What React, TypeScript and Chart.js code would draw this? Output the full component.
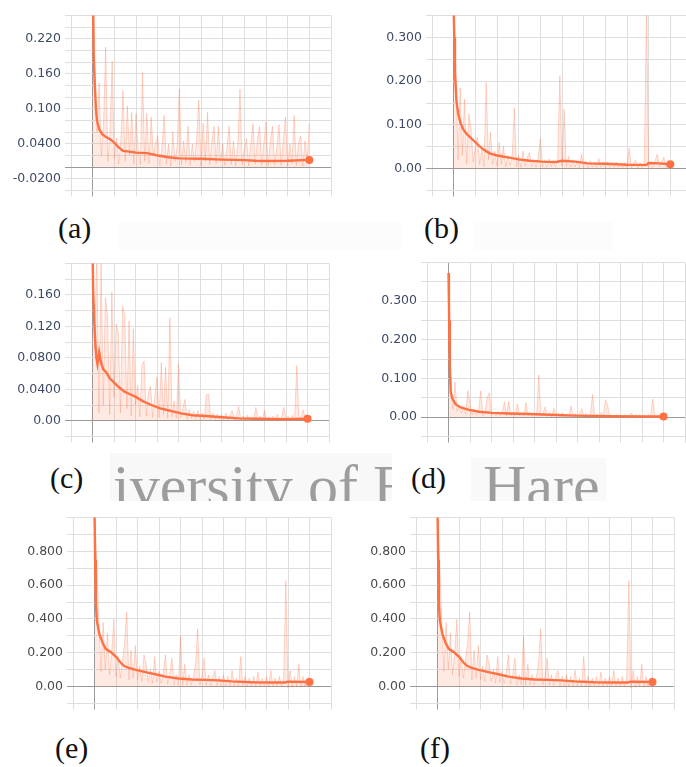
import React, { useEffect, useRef } from 'react';
import { Chart, registerables } from 'chart.js';

Chart.register(...registerables);

// Raw series are sampled every 0.1 step (index i -> step i * 0.1), steps 0..10.
const RAW_STEP = 0.1;

// ---------- Panel (a) ----------
const aSmoothSteps = [0, 0.05, 0.1, 0.15, 0.2, 0.3, 0.45, 0.6, 0.8, 1.0, 1.2, 1.4, 1.6, 2.0, 2.5, 3.0, 3.5, 4.0, 5.0, 6.0, 7.0, 7.5, 8.0, 9.0, 10];
const aSmoothLoss = [0.35, 0.185, 0.14, 0.1, 0.08, 0.065, 0.056, 0.052, 0.048, 0.042, 0.034, 0.028, 0.027, 0.025, 0.024, 0.02, 0.017, 0.015, 0.0145, 0.013, 0.012, 0.011, 0.0105, 0.011, 0.0125];
const aRawLoss = [
  0.30, 0.185, 0.06, 0.145, 0.02, 0.07, 0.206, 0.01, 0.06, 0.182,
  0.015, 0.05, 0.005, 0.045, 0.131, 0.01, 0.105, 0.02, 0.094, 0.005,
  0.092, 0.03, 0.004, 0.162, 0.01, 0.092, 0.006, 0.086, 0.02, 0.04,
  0.054, 0.003, 0.035, 0.089, 0.005, 0.04, 0.002, 0.06, 0.01, 0.035,
  0.134, 0.004, 0.045, 0.008, 0.07, 0.003, 0.04, 0.01, 0.05, 0.115,
  0.002, 0.075, 0.01, 0.094, 0.004, 0.045, 0.07, 0.006, 0.07, 0.01,
  0.04, 0.003, 0.035, 0.07, 0.005, 0.045, 0.002, 0.04, 0.134, 0.004,
  0.03, 0.049, 0.002, 0.04, 0.075, 0.005, 0.045, 0.07, 0.003, 0.04,
  0.078, 0.002, 0.045, 0.07, 0.004, 0.035, 0.073, 0.003, 0.045, 0.086,
  0.002, 0.04, 0.006, 0.089, 0.003, 0.04, 0.054, 0.002, 0.045, 0.01,
  0.075,
];
const aTickValues = [-0.02, 0.04, 0.1, 0.16, 0.22];
const aTickLabels = ['-0.0200', '0.0400', '0.100', '0.160', '0.220'];

// ---------- Panel (b) ----------
const bSmoothSteps = [0, 0.03, 0.06, 0.13, 0.21, 0.32, 0.44, 0.6, 0.75, 1.05, 1.36, 1.66, 2.0, 2.57, 3.0, 3.5, 4.1, 4.7, 5.0, 5.6, 6.2, 7.0, 8.0, 8.9, 9.0, 9.5, 10];
const bSmoothLoss = [0.36, 0.3, 0.22, 0.154, 0.125, 0.104, 0.09, 0.079, 0.072, 0.058, 0.044, 0.035, 0.03, 0.025, 0.021, 0.018, 0.016, 0.015, 0.018, 0.016, 0.012, 0.011, 0.009, 0.0085, 0.013, 0.012, 0.01];
const bRawLoss = [
  0.36, 0.228, 0.02, 0.185, 0.03, 0.159, 0.01, 0.125, 0.09, 0.015,
  0.05, 0.072, 0.01, 0.045, 0.005, 0.197, 0.02, 0.083, 0.01, 0.04,
  0.006, 0.06, 0.01, 0.051, 0.004, 0.03, 0.008, 0.025, 0.139, 0.005,
  0.03, 0.003, 0.04, 0.006, 0.025, 0.037, 0.004, 0.02, 0.003, 0.025,
  0.069, 0.004, 0.02, 0.003, 0.022, 0.005, 0.018, 0.004, 0.02, 0.212,
  0.006, 0.136, 0.004, 0.028, 0.003, 0.02, 0.004, 0.018, 0.002, 0.033,
  0.004, 0.016, 0.002, 0.018, 0.003, 0.015, 0.002, 0.023, 0.003, 0.014,
  0.002, 0.016, 0.003, 0.012, 0.002, 0.015, 0.003, 0.013, 0.002, 0.014,
  0.003, 0.047, 0.002, 0.012, 0.019, 0.002, 0.013, 0.003, 0.012, 0.36,
  0.004, 0.015, 0.003, 0.018, 0.033, 0.004, 0.015, 0.026, 0.003, 0.014,
  0.01,
];
const bTickValues = [0, 0.1, 0.2, 0.3];
const bTickLabels = ['0.00', '0.100', '0.200', '0.300'];

// ---------- Panel (c) ----------
const cSmoothSteps = [0, 0.03, 0.08, 0.14, 0.18, 0.23, 0.31, 0.38, 0.49, 0.65, 0.8, 1.03, 1.26, 1.49, 1.72, 2.03, 2.34, 2.65, 3.11, 3.42, 3.72, 4.18, 4.65, 5.26, 6.03, 6.8, 7.72, 8.8, 10];
const cSmoothLoss = [0.22, 0.166, 0.127, 0.095, 0.08, 0.072, 0.087, 0.076, 0.066, 0.061, 0.054, 0.048, 0.042, 0.037, 0.034, 0.03, 0.025, 0.021, 0.016, 0.014, 0.012, 0.009, 0.007, 0.006, 0.0045, 0.003, 0.0025, 0.002, 0.0025];
const cRawLoss = [
  0.22, 0.09, 0.22, 0.01, 0.2, 0.02, 0.156, 0.134, 0.008, 0.164,
  0.03, 0.123, 0.111, 0.01, 0.146, 0.133, 0.015, 0.127, 0.006, 0.117,
  0.02, 0.045, 0.005, 0.07, 0.076, 0.006, 0.035, 0.044, 0.004, 0.03,
  0.056, 0.004, 0.074, 0.008, 0.068, 0.003, 0.131, 0.005, 0.025, 0.003,
  0.072, 0.004, 0.015, 0.027, 0.002, 0.014, 0.003, 0.012, 0.002, 0.013,
  0.002, 0.01, 0.002, 0.033, 0.034, 0.002, 0.01, 0.001, 0.009, 0.002,
  0.008, 0.001, 0.01, 0.001, 0.007, 0.013, 0.001, 0.006, 0.018, 0.001,
  0.006, 0.001, 0.007, 0.001, 0.005, 0.001, 0.017, 0.001, 0.006, 0.001,
  0.013, 0.001, 0.005, 0.001, 0.006, 0.001, 0.008, 0.001, 0.005, 0.017,
  0.001, 0.006, 0.001, 0.007, 0.001, 0.07, 0.002, 0.005, 0.014, 0.001,
  0.005,
];
const cTickValues = [0, 0.04, 0.08, 0.12, 0.16];
const cTickLabels = ['0.00', '0.0400', '0.0800', '0.120', '0.160'];

// ---------- Panel (d) ----------
const dSmoothSteps = [0, 0.02, 0.03, 0.06, 0.11, 0.19, 0.34, 0.57, 0.96, 1.42, 2.04, 2.81, 3.73, 4.66, 5.89, 7.44, 8.98, 10];
const dSmoothLoss = [0.373, 0.3, 0.25, 0.13, 0.063, 0.047, 0.033, 0.025, 0.019, 0.014, 0.011, 0.0095, 0.008, 0.0064, 0.004, 0.0024, 0.0016, 0.0016];
const dRawLoss = [
  0.373, 0.08, 0.02, 0.091, 0.015, 0.03, 0.01, 0.025, 0.008, 0.069,
  0.035, 0.006, 0.02, 0.005, 0.018, 0.068, 0.004, 0.015, 0.051, 0.063,
  0.004, 0.012, 0.003, 0.015, 0.003, 0.012, 0.039, 0.003, 0.041, 0.004,
  0.012, 0.002, 0.035, 0.003, 0.01, 0.002, 0.037, 0.003, 0.012, 0.002,
  0.01, 0.002, 0.109, 0.003, 0.01, 0.027, 0.002, 0.012, 0.001, 0.023,
  0.002, 0.01, 0.001, 0.012, 0.001, 0.008, 0.002, 0.029, 0.001, 0.01,
  0.001, 0.008, 0.021, 0.001, 0.01, 0.001, 0.007, 0.059, 0.001, 0.008,
  0.001, 0.012, 0.001, 0.045, 0.031, 0.001, 0.006, 0.001, 0.007, 0.001,
  0.005, 0.001, 0.006, 0.001, 0.005, 0.011, 0.001, 0.005, 0.001, 0.006,
  0.001, 0.005, 0.001, 0.007, 0.001, 0.047, 0.001, 0.004, 0.001, 0.003,
  0.002,
];
const dTickValues = [0, 0.1, 0.2, 0.3];
const dTickLabels = ['0.00', '0.100', '0.200', '0.300'];

// ---------- Panel (e) ----------
const eSmoothSteps = [0, 0.03, 0.06, 0.11, 0.22, 0.37, 0.52, 0.75, 0.99, 1.22, 1.37, 1.6, 1.91, 2.37, 2.83, 3.3, 3.91, 4.53, 5.14, 5.76, 6.38, 7.3, 8.23, 8.85, 9.0, 10];
const eSmoothLoss = [1.05, 0.75, 0.5, 0.39, 0.315, 0.26, 0.223, 0.205, 0.178, 0.141, 0.123, 0.11, 0.099, 0.086, 0.073, 0.059, 0.048, 0.042, 0.04, 0.037, 0.031, 0.026, 0.024, 0.024, 0.029, 0.027];
const eRawLoss = [
  1.05, 0.745, 0.388, 0.09, 0.379, 0.1, 0.315, 0.07, 0.2, 0.397,
  0.06, 0.18, 0.05, 0.15, 0.26, 0.443, 0.04, 0.214, 0.05, 0.242,
  0.04, 0.12, 0.03, 0.187, 0.132, 0.03, 0.1, 0.02, 0.178, 0.025,
  0.09, 0.02, 0.08, 0.187, 0.015, 0.07, 0.168, 0.01, 0.07, 0.01,
  0.297, 0.01, 0.132, 0.01, 0.07, 0.008, 0.06, 0.132, 0.342, 0.01,
  0.06, 0.168, 0.008, 0.07, 0.005, 0.06, 0.095, 0.005, 0.06, 0.004,
  0.07, 0.003, 0.06, 0.004, 0.095, 0.003, 0.05, 0.002, 0.178, 0.003,
  0.06, 0.002, 0.05, 0.003, 0.06, 0.002, 0.086, 0.002, 0.05, 0.001,
  0.06, 0.002, 0.095, 0.001, 0.05, 0.002, 0.06, 0.001, 0.05, 0.626,
  -0.01, 0.095, -0.005, 0.06, 0.002, 0.132, -0.005, 0.06, 0.002, 0.05,
  0.059,
];
const eTickValues = [0, 0.2, 0.4, 0.6, 0.8];
const eTickLabels = ['0.00', '0.200', '0.400', '0.600', '0.800'];

// ---------- Panel (f) (reads the same as panel (e)) ----------
const fSmoothSteps = eSmoothSteps;
const fSmoothLoss = eSmoothLoss;
const fRawLoss = eRawLoss;
const fTickValues = [0, 0.2, 0.4, 0.6, 0.8];
const fTickLabels = ['0.00', '0.200', '0.400', '0.600', '0.800'];

const SMOOTH_COLOR = '#ff7043';
const RAW_LINE = 'rgba(255,112,67,0.28)';
const RAW_FILL = 'rgba(255,112,67,0.15)';
const GRID = '#dedede';
const AXIS = '#9a9a9a';

type Area = { L: number; R: number; T: number; B: number };

type PanelProps = {
  area: Area;
  yMin: number;
  yMax: number;
  yStep: number;
  tickValues: number[];
  tickLabels: string[];
  smoothSteps: number[];
  smoothLoss: number[];
  rawLoss: number[];
  labelColor: string;
};

const Y_W = 66;
const PAD_T = 3;
const PAD_R = 2;
const X_H = 6;

function LossPanel(p: PanelProps) {
  const ref = useRef<HTMLCanvasElement | null>(null);
  const left = p.area.L - Y_W;
  const top = p.area.T - PAD_T;
  const width = p.area.R - p.area.L + Y_W + PAD_R;
  const height = p.area.B - p.area.T + PAD_T + X_H;

  useEffect(() => {
    if (!ref.current) return;
    const lastIdx = p.smoothSteps.length - 1;
    const gridColor = (ctx: any) => (Math.abs(ctx.tick?.value ?? 1) < 1e-9 ? AXIS : GRID);
    const chart = new Chart(ref.current, {
      type: 'line',
      data: {
        datasets: [
          {
            data: p.smoothSteps.map((x, i) => ({ x, y: p.smoothLoss[i] })),
            borderColor: SMOOTH_COLOR,
            borderWidth: 2.4,
            pointRadius: (ctx: any) => (ctx.dataIndex === lastIdx ? 4 : 0),
            pointBackgroundColor: SMOOTH_COLOR,
            pointBorderWidth: 0,
            tension: 0,
            fill: false,
            order: 1,
          },
          {
            data: p.rawLoss.map((y, i) => ({ x: i * RAW_STEP, y })),
            borderColor: RAW_LINE,
            backgroundColor: RAW_FILL,
            borderWidth: 1,
            pointRadius: 0,
            tension: 0,
            fill: 'origin',
            order: 2,
          },
        ],
      },
      options: {
        animation: false,
        responsive: false,
        devicePixelRatio: 1,
        layout: { padding: { top: PAD_T, right: PAD_R, left: 0, bottom: 0 } },
        plugins: { legend: { display: false }, tooltip: { enabled: false } },
        scales: {
          x: {
            type: 'linear',
            min: -1,
            max: 11,
            ticks: { display: false, stepSize: 1 },
            grid: { color: gridColor, tickLength: X_H, drawTicks: true },
            border: { display: false },
            afterFit: (s: any) => {
              s.height = X_H;
            },
          },
          y: {
            type: 'linear',
            min: p.yMin,
            max: p.yMax,
            ticks: {
              stepSize: p.yStep,
              autoSkip: false,
              padding: 4,
              color: p.labelColor,
              font: { family: 'DejaVu Sans', size: 12.5 },
              callback: (value: any) => {
                const k = p.tickValues.findIndex((t) => Math.abs(t - Number(value)) < 1e-6);
                return k >= 0 ? p.tickLabels[k] : '';
              },
            },
            grid: { color: gridColor, tickLength: 6, drawTicks: true },
            border: { display: false },
            afterFit: (s: any) => {
              s.width = Y_W;
            },
          },
        },
      } as any,
    });
    return () => chart.destroy();
  }, []);

  return (
    <canvas
      ref={ref}
      width={width}
      height={height}
      style={{ position: 'absolute', left, top, width, height }}
    />
  );
}

const captionStyle = (left: number, top: number): React.CSSProperties => ({
  position: 'absolute',
  left,
  top,
  fontFamily: '"Liberation Serif", "Times New Roman", serif',
  fontSize: 30,
  lineHeight: '30px',
  color: '#111',
  whiteSpace: 'nowrap',
});

export default function App() {
  return (
    <div
      style={{
        position: 'absolute',
        left: 0,
        top: 0,
        width: 686,
        height: 767,
        overflow: 'hidden',
        background: '#fff',
      }}
    >
      {/* faint scanned boxes behind the first caption row */}
      <div style={{ position: 'absolute', left: 118, top: 222, width: 284, height: 28, background: '#fcfcfc' }} />
      <div style={{ position: 'absolute', left: 475, top: 222, width: 137, height: 28, background: '#fcfcfc' }} />

      {/* watermark fragments */}
      <div
        style={{
          position: 'absolute',
          left: 110,
          top: 453,
          width: 282,
          height: 48,
          overflow: 'hidden',
          background: '#f8f8f8',
        }}
      >
        <div
          style={{
            position: 'absolute',
            left: 3,
            top: 2.7,
            fontFamily: '"Liberation Serif", "Times New Roman", serif',
            fontSize: 60,
            lineHeight: '60px',
            color: '#9d9d9d',
            whiteSpace: 'nowrap',
          }}
        >
          iversity of E
        </div>
      </div>
      <div
        style={{
          position: 'absolute',
          left: 471,
          top: 458,
          width: 135,
          height: 43,
          overflow: 'hidden',
          background: '#f9f9f9',
        }}
      >
        <div
          style={{
            position: 'absolute',
            left: 12,
            top: -2.3,
            fontFamily: '"Liberation Serif", "Times New Roman", serif',
            fontSize: 60,
            lineHeight: '60px',
            color: '#9d9d9d',
            whiteSpace: 'nowrap',
          }}
        >
          Hare
        </div>
      </div>

      <LossPanel
        area={{ L: 71, R: 333, T: 7, B: 196 }}
        yMin={-0.04}
        yMax={0.26}
        yStep={0.02}
        tickValues={aTickValues}
        tickLabels={aTickLabels}
        smoothSteps={aSmoothSteps}
        smoothLoss={aSmoothLoss}
        rawLoss={aRawLoss}
        labelColor="#3f4b66"
      />
      <LossPanel
        area={{ L: 432, R: 694, T: 7, B: 196 }}
        yMin={-0.05}
        yMax={0.35}
        yStep={0.05}
        tickValues={bTickValues}
        tickLabels={bTickLabels}
        smoothSteps={bSmoothSteps}
        smoothLoss={bSmoothLoss}
        rawLoss={bRawLoss}
        labelColor="#3f4b66"
      />
      <LossPanel
        area={{ L: 71, R: 331, T: 255, B: 442 }}
        yMin={-0.02}
        yMax={0.2}
        yStep={0.02}
        tickValues={cTickValues}
        tickLabels={cTickLabels}
        smoothSteps={cSmoothSteps}
        smoothLoss={cSmoothLoss}
        rawLoss={cRawLoss}
        labelColor="#3f4b66"
      />
      <LossPanel
        area={{ L: 427, R: 687, T: 254, B: 442 }}
        yMin={-0.05}
        yMax={0.4}
        yStep={0.05}
        tickValues={dTickValues}
        tickLabels={dTickLabels}
        smoothSteps={dSmoothSteps}
        smoothLoss={dSmoothLoss}
        rawLoss={dRawLoss}
        labelColor="#3f4b66"
      />
      <LossPanel
        area={{ L: 73, R: 333, T: 509, B: 709 }}
        yMin={-0.1}
        yMax={1.0}
        yStep={0.1}
        tickValues={eTickValues}
        tickLabels={eTickLabels}
        smoothSteps={eSmoothSteps}
        smoothLoss={eSmoothLoss}
        rawLoss={eRawLoss}
        labelColor="#4a4a4a"
      />
      <LossPanel
        area={{ L: 416, R: 676, T: 509, B: 709 }}
        yMin={-0.1}
        yMax={1.0}
        yStep={0.1}
        tickValues={fTickValues}
        tickLabels={fTickLabels}
        smoothSteps={fSmoothSteps}
        smoothLoss={fSmoothLoss}
        rawLoss={fRawLoss}
        labelColor="#4a4a4a"
      />

      <div style={captionStyle(58, 213)}>(a)</div>
      <div style={captionStyle(424, 213)}>(b)</div>
      <div style={captionStyle(50, 463)}>(c)</div>
      <div style={captionStyle(411, 463)}>(d)</div>
      <div style={captionStyle(55, 733)}>(e)</div>
      <div style={captionStyle(420, 733)}>(f)</div>
    </div>
  );
}
